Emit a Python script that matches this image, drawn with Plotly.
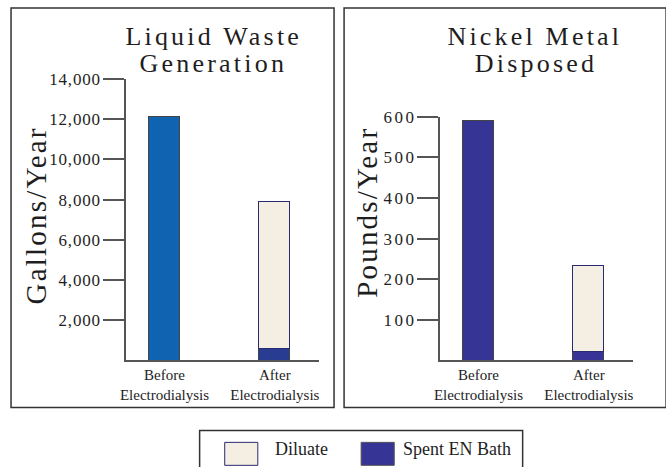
import plotly.graph_objects as go
from plotly.subplots import make_subplots

# ---- data ----
categories = ["Before<br>Electrodialysis", "After<br>Electrodialysis"]
waste_spent = [12100, 600]       # gallons/year (Before bar = total, After = Spent EN Bath)
waste_diluate = [None, 7300]
nickel_spent = [590, 22]         # pounds/year
nickel_diluate = [None, 212]
waste_ticks = [2000, 4000, 6000, 8000, 10000, 12000, 14000]
nickel_ticks = [100, 200, 300, 400, 500, 600]

waste_spent_colors = ["#0F63B0", "#283C92"]
nickel_spent_colors = ["#363495", "#383497"]
diluate_color = "#F5EEE2"
spent_color = "#363495"

# page size (slightly larger than window; offset/scale compensation for the viewer)
FW, FH = 674, 476
KX, KY = 0.988, 0.9825
def sx(s): return (s / KX) / FW
def sy(s): return 1 - (s / KY) / FH

fig = make_subplots(rows=1, cols=2)

SERIF = "Liberation Serif, Times New Roman, serif"
TXT = "#1E1E1E"
AX = "#555555"

fig.add_trace(go.Bar(x=categories, y=waste_spent, marker=dict(color=waste_spent_colors, line=dict(color="#444444", width=1)),
                     width=0.28, showlegend=False, name="Spent EN Bath"), row=1, col=1)
fig.add_trace(go.Bar(x=categories, y=waste_diluate, marker=dict(color=diluate_color, line=dict(color="#2A2A70", width=1)),
                     width=0.28, showlegend=False, name="Diluate"), row=1, col=1)
fig.add_trace(go.Bar(x=categories, y=nickel_spent, marker=dict(color=nickel_spent_colors, line=dict(color="#444444", width=1)),
                     width=0.28, showlegend=False, name="Spent EN Bath"), row=1, col=2)
fig.add_trace(go.Bar(x=categories, y=nickel_diluate, marker=dict(color=diluate_color, line=dict(color="#2A2A70", width=1)),
                     width=0.28, showlegend=False, name="Diluate"), row=1, col=2)

xcommon = dict(type="category", range=[-0.345, 1.4], showline=True, linecolor=AX, linewidth=2,
               ticks="", tickfont=dict(family=SERIF, size=15, color=TXT), showgrid=False, fixedrange=True)
ycommon = dict(showline=True, linecolor=AX, linewidth=2, ticks="outside", ticklen=21, tickwidth=2,
               tickcolor=AX, tickfont=dict(family=SERIF, size=17, color=TXT), showgrid=False,
               zeroline=False, fixedrange=True)

fig.update_layout(
    width=FW, height=FH, margin=dict(l=0, r=0, t=0, b=0),
    paper_bgcolor="white", plot_bgcolor="white", barmode="stack", bargap=0,
    xaxis=dict(domain=[sx(127), sx(319)], **xcommon),
    xaxis2=dict(domain=[sx(440), sx(632)], **xcommon),
    yaxis=dict(domain=[sy(360), sy(78)], range=[0, 14000], tickvals=waste_ticks, tickformat=",", **ycommon),
    yaxis2=dict(domain=[sy(360), sy(116)], range=[0, 600], tickvals=nickel_ticks, **ycommon),
)

def rect(x0, x1, y0, y1, **kw):
    return dict(type="rect", xref="paper", yref="paper", x0=sx(x0), x1=sx(x1), y0=sy(y1), y1=sy(y0), **kw)

shapes = [
    rect(12, 334, 7, 407, line=dict(color="#333333", width=1.5)),
    rect(344, 665, 7, 407, line=dict(color="#333333", width=1.5)),
    rect(200, 522, 430, 475, line=dict(color="#333333", width=1.5)),
    rect(225, 258, 442, 465, fillcolor=diluate_color, line=dict(color="#2A2A70", width=1)),
    rect(361, 394, 442, 465, fillcolor=spent_color, line=dict(color="#555555", width=1)),
]
fig.update_layout(shapes=shapes)

def note(text, x, y, size, **kw):
    d = dict(text=text, x=sx(x), y=sy(y), xref="paper", yref="paper", xanchor="center", yanchor="middle",
             showarrow=False, font=dict(family=SERIF, size=size, color=TXT))
    d.update(kw)
    return d

ann = [
    note("Liquid Waste", 212, 35.5, 26),
    note("Generation", 212, 63, 26),
    note("Nickel Metal", 532, 35.5, 26),
    note("Disposed", 534, 63, 26),
    note("Gallons/Year", 37, 215.5, 29, textangle=-90),
    note("Pounds/Year", 367, 213, 29, textangle=-90),
    note("Diluate", 273, 449, 18, xanchor="left"),
    note("Spent EN Bath", 401, 449, 18, xanchor="left"),
]
fig.update_layout(annotations=ann)

post = """
(function(){
  document.documentElement.style.overflow='hidden';
  var b=document.body; b.style.margin='-8.1px 0 0 -6.7px'; b.style.overflow='hidden';
  var gd=document.getElementById('{plot_id}');
  function sp(t, ls, anchorEnd){
    t.style.letterSpacing = ls + 'px';
    t.setAttribute('dx', anchorEnd ? ls : ls/2);
  }
  function fix(){
    gd.querySelectorAll('.annotation-text').forEach(function(t){
      var s=t.textContent;
      if(/^(Liquid|Generation|Nickel|Disposed)/.test(s)) sp(t, 3.2, false);
      else if(/^(Gallons|Pounds)/.test(s)) sp(t, 2.2, false);
    });
    gd.querySelectorAll('g.ytick text').forEach(function(t){ sp(t, 0.8, true); });
    gd.querySelectorAll('g.y2tick text').forEach(function(t){ sp(t, 2.5, true); });
  }
  fix();
  if (gd.on) gd.on('plotly_afterplot', fix);
})();
"""

fig.write_html("out.html", config={"displayModeBar": False}, post_script=post)
